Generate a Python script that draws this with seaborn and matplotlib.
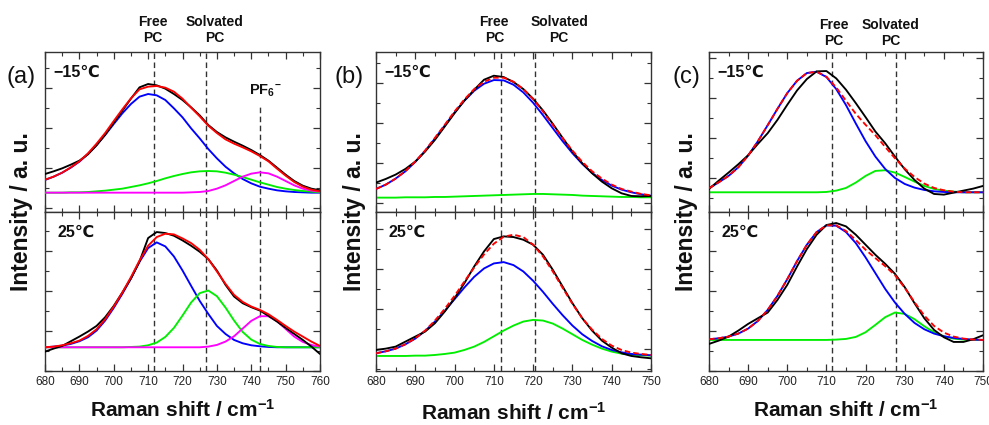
import matplotlib
matplotlib.use("Agg")
import matplotlib.pyplot as plt
import matplotlib.transforms as mtransforms
from matplotlib.ticker import MultipleLocator
import seaborn as sns

# ---------------- data (intensity in arbitrary units) ----------------
X_A = [680, 682.5, 685, 687.5, 690, 692.5, 695, 697.5, 700, 702.5, 705, 707.5, 710,
       712.5, 715, 717.5, 720, 722.5, 725, 727.5, 730, 732.5, 735, 737.5, 740,
       742.5, 745, 747.5, 750, 752.5, 755, 757.5, 760]
X_BC = [680, 682.5, 685, 687.5, 690, 692.5, 695, 697.5, 700, 702.5, 705, 707.5, 710,
        712.5, 715, 717.5, 720, 722.5, 725, 727.5, 730, 732.5, 735, 737.5, 740,
        742.5, 745, 747.5, 750]

# (a) -15 C
A_TOP_BLACK = [103, 111, 120, 131, 143, 162, 189, 221, 257, 293, 329, 363, 373, 369, 359, 343, 325,
               303, 279, 250, 229, 213, 200, 188, 175, 160, 143, 122, 101, 82, 68, 59, 54]
A_TOP_RED = [86, 95, 107, 123, 141, 165, 194, 226, 262, 297, 330, 357, 365, 367, 362, 350, 329,
             302, 276, 248, 226, 207, 194, 183, 171, 157, 141, 119, 98, 79, 65, 56, 51]
A_TOP_BLUE = [85, 95, 107, 122, 140, 163, 190, 220, 253, 285, 313, 335, 343, 339, 325, 300, 273,
              240, 210, 178, 150, 125, 105, 88, 75, 65, 59, 54, 51, 49, 48, 47, 47]
A_TOP_GREEN = [47, 47, 47, 48, 48, 49, 51, 53, 56, 59, 64, 69, 75, 82, 90, 97, 103,
               108, 111, 112, 111, 107, 101, 94, 86, 78, 71, 64, 59, 55, 52, 50, 48]
A_TOP_MAGENTA = [47, 47, 47, 47, 47, 47, 47, 47, 47, 47, 47, 47, 47, 47, 47, 47, 47,
                 48, 49, 52, 59, 69, 82, 95, 104, 108, 105, 95, 82, 69, 59, 53, 50]
# (a) 25 C
A_BOT_BLACK = [-62, -53, -45, -31, -17, -2, 15, 41, 75, 115, 157, 208, 278, 296, 293, 285, 271,
               255, 237, 215, 181, 138, 103, 83, 71, 61, 45, 28, 9, -9, -27, -47, -69]
A_BOT_RED = [-49, -47, -43, -37, -29, -15, 5, 35, 73, 115, 161, 211, 255, 281, 291, 289, 277,
             263, 243, 215, 178, 141, 108, 87, 73, 63, 50, 33, 15, -2, -17, -32, -45]
A_BOT_BLUE = [-49, -47, -44, -39, -31, -19, 1, 31, 69, 111, 157, 207, 248, 265, 253, 223, 181,
              135, 90, 51, 15, -9, -27, -37, -43, -46, -48, -49, -49, -49, -49, -49, -49]
A_BOT_GREEN = [-49, -49, -49, -49, -49, -49, -49, -49, -49, -49, -48, -47, -43, -35, -18, 9, 46,
               85, 113, 121, 104, 70, 31, -3, -26, -39, -45, -48, -49, -49, -49, -49, -49]
A_BOT_MAGENTA = [-49, -49, -49, -49, -49, -49, -49, -49, -49, -49, -49, -49, -49, -49, -49, -49, -49,
                 -49, -49, -47, -42, -32, -16, 7, 30, 44, 44, 29, 6, -17, -33, -42, -47]

# (b) -15 C
B_TOP_BLACK = [62, 73, 86, 103, 125, 155, 190, 230, 270, 308, 340, 370, 382, 378, 363,
               342, 313, 278, 238, 196, 155, 120, 90, 65, 45, 30, 22, 21, 22]
B_TOP_RED = [43, 56, 74, 97, 125, 158, 196, 235, 275, 311, 342, 364, 376, 376, 364,
             342, 312, 275, 235, 195, 158, 124, 96, 74, 56, 43, 35, 28, 24]
B_TOP_BLUE = [43, 56, 74, 96, 124, 157, 194, 233, 272, 307, 337, 358, 369, 368, 355,
              332, 301, 264, 225, 186, 150, 118, 91, 70, 53, 41, 33, 27, 23]
B_TOP_GREEN = [17, 17, 17, 18, 18, 18, 19, 19, 20, 21, 22, 23, 24, 25, 26,
               27, 28, 28, 27, 26, 25, 23, 22, 21, 20, 19, 19, 18, 18]
# (b) 25 C
B_BOT_BLACK = [-2, 2, 8, 23, 38, 53, 78, 113, 153, 198, 248, 293, 330, 338, 336,
               328, 313, 283, 238, 188, 138, 93, 56, 26, 5, -12, -20, -24, -27]
B_BOT_RED = [-12, -6, 2, 15, 33, 56, 86, 121, 160, 203, 245, 284, 316, 337, 343,
             336, 313, 278, 233, 184, 136, 93, 59, 31, 11, -2, -10, -14, -17]
B_BOT_BLUE = [-12, -6, 2, 15, 32, 55, 83, 115, 150, 185, 217, 242, 257, 261, 252,
              233, 205, 172, 136, 102, 71, 45, 25, 9, -2, -9, -14, -16, -18]
B_BOT_GREEN = [-20, -20, -20, -20, -19, -19, -17, -14, -10, -2, 8, 22, 39, 56, 71,
               83, 88, 86, 77, 62, 45, 28, 14, 2, -7, -13, -16, -18, -19]

# (c) -15 C
C_TOP_BLACK = [-32, -7, 17, 42, 69, 103, 135, 175, 220, 263, 297, 320, 321, 299, 265,
               225, 183, 140, 105, 65, 27, -5, -31, -47, -49, -43, -37, -31, -23]
C_TOP_RED = [-30, -12, 7, 33, 68, 111, 159, 208, 255, 292, 315, 319, 304, 272, 232,
             193, 160, 129, 94, 60, 29, 4, -16, -29, -36, -40, -42, -42, -42]
C_TOP_BLUE = [-30, -12, 7, 33, 68, 111, 159, 208, 255, 292, 315, 319, 303, 267, 219,
              164, 111, 65, 28, 1, -17, -28, -35, -39, -41, -42, -42, -42, -42]
C_TOP_GREEN = [-42, -42, -42, -42, -42, -42, -42, -42, -42, -42, -42, -42, -41, -37, -29,
               -13, 7, 22, 24, 17, 4, -10, -23, -32, -37, -40, -42, -42, -42]
# (c) 25 C
C_BOT_BLACK = [-39, -29, -17, 1, 21, 38, 55, 93, 138, 193, 245, 288, 317, 323, 313,
               288, 258, 228, 201, 171, 131, 83, 38, 3, -19, -33, -33, -25, -13]
C_BOT_RED = [-25, -22, -17, -8, 7, 30, 63, 105, 155, 209, 258, 296, 316, 316, 299,
             272, 243, 218, 194, 167, 129, 86, 46, 15, -5, -17, -23, -26, -27]
C_BOT_BLUE = [-25, -22, -17, -8, 7, 30, 63, 105, 155, 209, 258, 296, 316, 315, 296,
              263, 220, 173, 126, 85, 51, 24, 5, -8, -16, -21, -24, -26, -27]
C_BOT_GREEN = [-27, -27, -27, -27, -27, -27, -27, -27, -27, -27, -27, -27, -27, -26, -24,
               -18, -4, 18, 41, 55, 51, 35, 14, -4, -16, -23, -26, -27, -27]

# peak positions (dashed guide lines) and labels
A_LINES = [711.6, 726.9, 742.4]
B_LINES = [711.9, 720.4]
C_LINES = [711.5, 727.7]
TOP_LABELS = ["Free\nPC", "Solvated\nPC"]
A_LABEL_X = [711.4, 729.4]
B_LABEL_X = [710.1, 726.6]
C_LABEL_X = [711.8, 726.5]
TEMPS = ["\u221215\u2103", "25\u2103"]
PANEL_TAGS = ["(a)", "(b)", "(c)"]
XTICKS_A = [680, 690, 700, 710, 720, 730, 740, 750, 760]
XTICKS_BC = [680, 690, 700, 710, 720, 730, 740, 750]

# ---------------- style ----------------
sns.set_theme(style="ticks")
plt.rcParams['font.family'] = ['Liberation Sans', 'DejaVu Sans']
plt.rcParams['mathtext.fontset'] = 'custom'
plt.rcParams['mathtext.rm'] = 'Liberation Sans'
plt.rcParams['mathtext.bf'] = 'Liberation Sans:bold'
plt.rcParams['mathtext.it'] = 'Liberation Sans:italic'
plt.rcParams['axes.edgecolor'] = '#333333'
plt.rcParams['axes.linewidth'] = 1.0

W, H = 989, 425
fig = plt.figure(figsize=(W / 100, H / 100), dpi=100)
fig.patch.set_facecolor('white')

COL = {'black': '#000000', 'red': '#ff0000', 'blue': '#0000ff',
       'green': '#00ee00', 'magenta': '#ff00ff'}
LW = 1.35
DASH = (0, (3.0, 1.6))
GUIDE = (0, (4.0, 2.5))


def ax_rect(left_px, right_px, top_px, bottom_px):
    return [left_px / W, 1 - bottom_px / H, (right_px - left_px) / W, (bottom_px - top_px) / H]


def curve(ax, x, y, color, dashed=False, z=2):
    kw = dict(x=x, y=y, ax=ax, color=color, linewidth=LW, legend=False, zorder=z)
    if dashed:
        kw['linestyle'] = DASH
    sns.lineplot(**kw)


def style_axis(ax, xlim, xticks, ylim, show_xlabels):
    ax.set_xlim(*xlim)
    ax.set_ylim(*ylim)
    ax.set_xticks(xticks)
    ax.xaxis.set_minor_locator(MultipleLocator(5))
    ax.yaxis.set_major_locator(MultipleLocator(120))
    ax.yaxis.set_minor_locator(MultipleLocator(60))
    ax.tick_params(which='both', direction='in', top=True, right=True,
                   colors='#333333', labelcolor='#222222', labelsize=8.5)
    ax.tick_params(which='major', length=5, width=0.9)
    ax.tick_params(which='minor', length=3, width=0.8)
    ax.set_yticklabels([])
    if not show_xlabels:
        ax.set_xticklabels([])
    ax.set_xlabel('')
    ax.set_ylabel('')
    ax.set_facecolor('white')


panels = [
    dict(left=45, right=320, xlim=(680, 760), xticks=XTICKS_A, x=X_A,
         top=[('blue', A_TOP_BLUE, False), ('green', A_TOP_GREEN, False),
              ('magenta', A_TOP_MAGENTA, False), ('black', A_TOP_BLACK, False),
              ('red', A_TOP_RED, False)],
         bot=[('blue', A_BOT_BLUE, False), ('green', A_BOT_GREEN, False),
              ('magenta', A_BOT_MAGENTA, False), ('black', A_BOT_BLACK, False),
              ('red', A_BOT_RED, False)],
         ylim_top=(-11, 469), ylim_bot=(-120, 356),
         lines=A_LINES, label_x=A_LABEL_X, label_y=30, ylab_x=22, tag_x=7, xlab_y=410),
    dict(left=376, right=651, xlim=(680, 750), xticks=XTICKS_BC, x=X_BC,
         top=[('green', B_TOP_GREEN, False), ('blue', B_TOP_BLUE, False),
              ('black', B_TOP_BLACK, False), ('red', B_TOP_RED, True)],
         bot=[('green', B_BOT_GREEN, False), ('blue', B_BOT_BLUE, False),
              ('black', B_BOT_BLACK, False), ('red', B_BOT_RED, True)],
         ylim_top=(-26, 453), ylim_bot=(-65, 411),
         lines=B_LINES, label_x=B_LABEL_X, label_y=30, ylab_x=355, tag_x=335, xlab_y=413),
    dict(left=709, right=983, xlim=(680, 750), xticks=XTICKS_BC, x=X_BC,
         top=[('green', C_TOP_GREEN, False), ('blue', C_TOP_BLUE, False),
              ('black', C_TOP_BLACK, False), ('red', C_TOP_RED, True)],
         bot=[('green', C_BOT_GREEN, False), ('blue', C_BOT_BLUE, False),
              ('black', C_BOT_BLACK, False), ('red', C_BOT_RED, True)],
         ylim_top=(-101, 378), ylim_bot=(-120, 356),
         lines=C_LINES, label_x=C_LABEL_X, label_y=33, ylab_x=686, tag_x=673, xlab_y=410),
]

TOP_Y0, MID_Y, BOT_Y1 = 52, 212, 371

for i, p in enumerate(panels):
    ax_t = fig.add_axes(ax_rect(p['left'], p['right'], TOP_Y0, MID_Y))
    ax_b = fig.add_axes(ax_rect(p['left'], p['right'], MID_Y, BOT_Y1))

    for ax, key in ((ax_t, 'top'), (ax_b, 'bot')):
        for k, (cname, ys, dashed) in enumerate(p[key]):
            curve(ax, p['x'], ys, COL[cname], dashed=dashed, z=2 + k)

    style_axis(ax_t, p['xlim'], p['xticks'], p['ylim_top'], False)
    style_axis(ax_b, p['xlim'], p['xticks'], p['ylim_bot'], True)

    # dashed guide lines
    for j, xv in enumerate(p['lines']):
        if i == 0 and j == 2:
            ax_t.axvline(xv, ymin=0, ymax=0.67, color='#333333', lw=1.0, ls=GUIDE, zorder=1)
        else:
            ax_t.axvline(xv, color='#333333', lw=1.0, ls=GUIDE, zorder=1)
        ax_b.axvline(xv, color='#333333', lw=1.0, ls=GUIDE, zorder=1)

    # labels above the panel
    trans = mtransforms.blended_transform_factory(ax_t.transData, fig.transFigure)
    for lab, lx in zip(TOP_LABELS, p['label_x']):
        ax_t.text(lx, 1 - p['label_y'] / H, lab, transform=trans, ha='center', va='center',
                  fontsize=10, fontweight='bold', color='#111111', linespacing=1.15,
                  clip_on=False)
    if i == 0:
        ax_t.text(744.1, 1 - 91 / H, r"$\mathbf{PF}_{\mathbf{6}}{}^{\mathbf{-}}$",
                  transform=trans, ha='center', va='center', fontsize=10.5, color='#111111')

    # temperature tags
    ax_t.text(0.03, 0.875, TEMPS[0], transform=ax_t.transAxes, ha='left', va='center',
              fontsize=11.5, fontweight='bold', color='#111111')
    ax_b.text(0.045, 0.874, TEMPS[1], transform=ax_b.transAxes, ha='left', va='center',
              fontsize=11.5, fontweight='bold', color='#111111')

    # panel tag, y label, x label
    fig.text(p['tag_x'] / W, 1 - 77 / H, PANEL_TAGS[i], ha='left', va='center',
             fontsize=17, color='#111111')
    fig.text(p['ylab_x'] / W, 1 - MID_Y / H, "Intensity / a. u.", rotation=90,
             ha='center', va='center', fontsize=16.5, fontweight='bold', color='#111111')
    fig.text((p['left'] + p['right']) / 2 / W, 1 - p['xlab_y'] / H,
             r"Raman shift / cm$^{\mathbf{-1}}$", ha='center', va='center',
             fontsize=15, fontweight='bold', color='#111111')

fig.savefig("out.png", dpi=100, facecolor='white')
